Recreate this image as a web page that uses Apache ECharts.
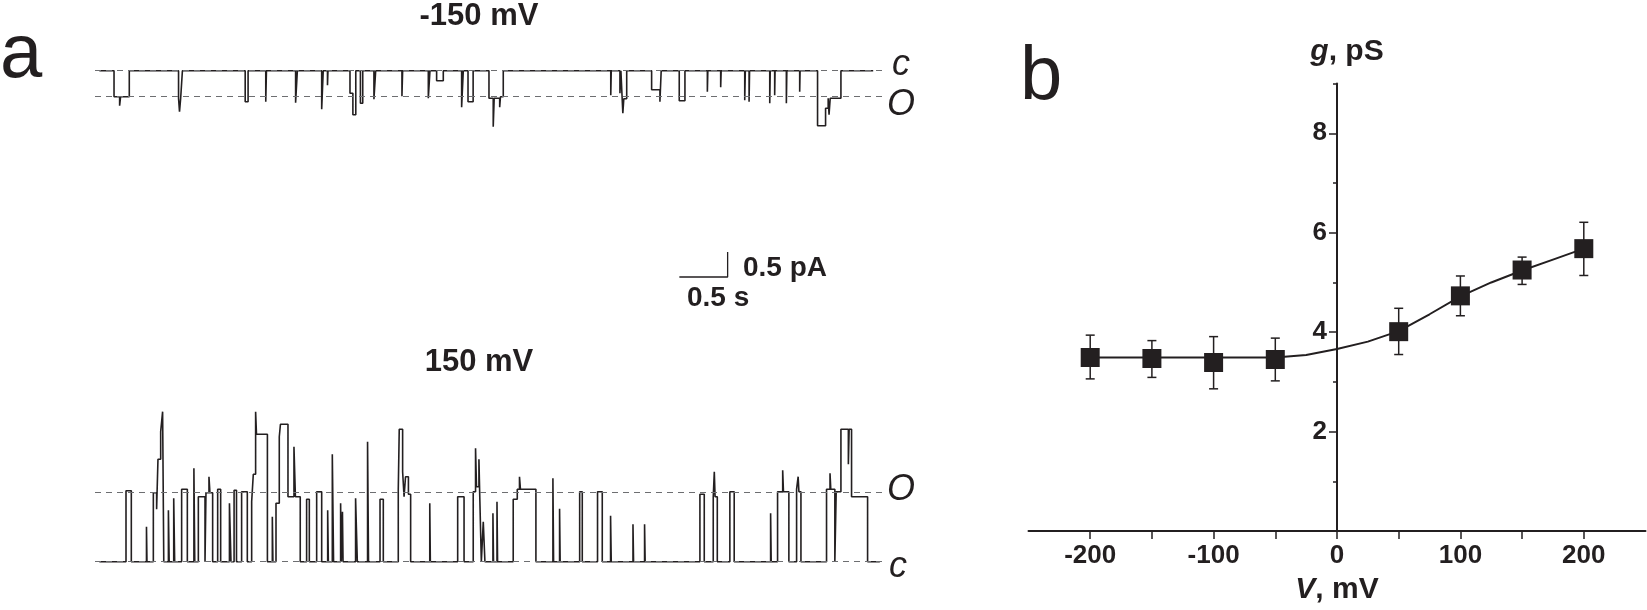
<!DOCTYPE html>
<html>
<head>
<meta charset="utf-8">
<title>Single-channel records and g-V curve</title>
<script src="https://cdn.jsdelivr.net/npm/echarts@6.0.0/dist/echarts.min.js"></script>
<style>
  html, body { margin: 0; padding: 0; background: #fff; }
  #chart { width: 1647px; height: 610px; }
</style>
</head>
<body>
<div id="chart"></div>
<script>
// ---- panel a: single-channel records, events as [start s, end s, level pA] ----
const topTraceSpan = [0.045, 8.057];
const topLevels = [0, -0.52];           // closed, open
const topLevelNames = ['c', 'O'];
const topTraceEvents = [
  [0.197, 0.255, -0.52], [0.255, 0.265, -0.70], [0.265, 0.355, -0.52],
  [0.865, 0.875, -0.55], [0.875, 0.887, -0.82], [0.887, 0.905, -0.55],
  [1.555, 1.585, -0.62],
  [1.768, 1.775, -0.62],
  [2.077, 2.095, -0.64],
  [2.347, 2.363, -0.77],
  [2.407, 2.412, -0.29],
  [2.640, 2.670, -0.45], [2.670, 2.700, -0.88],
  [2.748, 2.772, -0.65],
  [2.888, 2.906, -0.57],
  [3.178, 3.185, -0.51],
  [3.451, 3.468, -0.55],
  [3.537, 3.606, -0.20],
  [3.796, 3.813, -0.73],
  [3.862, 3.915, -0.62],
  [4.079, 4.123, -0.55], [4.123, 4.133, -1.12], [4.133, 4.190, -0.55], [4.190, 4.198, -0.73], [4.198, 4.227, -0.52],
  [5.340, 5.345, -0.49],
  [5.435, 5.445, -0.45],
  [5.465, 5.475, -0.85], [5.475, 5.505, -0.56],
  [5.763, 5.849, -0.38], [5.849, 5.862, -0.62],
  [6.049, 6.108, -0.60],
  [6.340, 6.345, -0.42],
  [6.478, 6.483, -0.33],
  [6.727, 6.733, -0.59],
  [6.772, 6.777, -0.62],
  [6.986, 6.991, -0.65],
  [7.037, 7.041, -0.49],
  [7.158, 7.163, -0.65],
  [7.296, 7.300, -0.42],
  [7.481, 7.564, -1.10], [7.564, 7.591, -0.75], [7.591, 7.600, -0.55], [7.600, 7.612, -0.88], [7.612, 7.723, -0.55]
];

const bottomTraceSpan = [0.045, 8.126];
const bottomLevels = [1.38, 0];         // open, closed
const bottomLevelNames = ['O', 'c'];
const bottomTraceEvents = [
  [0.321, 0.376, 1.42],
  [0.533, 0.538, 0.70],
  [0.604, 0.638, 1.38], [0.638, 0.652, 1.05], [0.652, 0.680, 2.05], [0.680, 0.700, 2.60], [0.700, 0.712, 3.00],
  [0.760, 0.768, 1.03],
  [0.815, 0.825, 1.27],
  [0.897, 0.956, 1.45],
  [1.024, 1.033, 1.87],
  [1.070, 1.139, 1.30],
  [1.149, 1.180, 1.38], [1.180, 1.190, 1.70], [1.190, 1.218, 1.38],
  [1.270, 1.301, 1.45],
  [1.392, 1.408, 1.17],
  [1.440, 1.465, 1.43],
  [1.518, 1.577, 1.40],
  [1.622, 1.639, 1.20], [1.639, 1.663, 1.75], [1.663, 1.672, 3.00], [1.672, 1.785, 2.55],
  [1.836, 1.842, 0.90],
  [1.874, 1.908, 1.17], [1.908, 1.920, 2.50], [1.920, 1.998, 2.75], [1.998, 2.060, 1.30], [2.060, 2.075, 2.30], [2.075, 2.125, 1.30],
  [2.191, 2.219, 1.25],
  [2.295, 2.347, 1.40],
  [2.409, 2.416, 1.03],
  [2.457, 2.470, 2.15],
  [2.543, 2.550, 1.17],
  [2.562, 2.568, 1.00],
  [2.698, 2.716, 1.27],
  [2.822, 2.832, 2.40],
  [2.951, 2.985, 1.25],
  [3.140, 3.150, 1.45], [3.150, 3.185, 2.65], [3.185, 3.200, 1.80], [3.200, 3.215, 1.30], [3.215, 3.245, 1.70], [3.245, 3.268, 1.35],
  [3.466, 3.472, 1.17],
  [3.755, 3.821, 1.30],
  [3.916, 3.940, 1.40], [3.940, 3.950, 2.27], [3.950, 3.975, 1.50], [3.975, 3.985, 2.05], [3.985, 4.000, 1.20],
  [4.020, 4.037, 0.80],
  [4.120, 4.126, 0.97],
  [4.162, 4.168, 1.20],
  [4.330, 4.372, 1.25], [4.372, 4.395, 1.45], [4.395, 4.405, 1.70], [4.405, 4.565, 1.45],
  [4.741, 4.748, 1.67],
  [4.810, 4.816, 1.06],
  [5.018, 5.045, 1.40],
  [5.203, 5.252, 1.40],
  [5.338, 5.345, 0.92],
  [5.570, 5.576, 0.75],
  [5.690, 5.696, 0.75],
  [6.263, 6.308, 1.35],
  [6.401, 6.412, 1.30], [6.412, 6.420, 1.80], [6.420, 6.443, 1.30],
  [6.573, 6.618, 1.40],
  [6.995, 7.001, 0.97],
  [7.067, 7.120, 1.40], [7.120, 7.128, 1.83], [7.128, 7.184, 1.40],
  [7.264, 7.280, 1.45], [7.280, 7.288, 1.70], [7.288, 7.309, 1.40],
  [7.574, 7.610, 1.45], [7.610, 7.618, 1.77], [7.618, 7.660, 1.45],
  [7.674, 7.723, 1.40], [7.723, 7.800, 2.65], [7.800, 7.808, 1.95], [7.808, 7.833, 2.65], [7.833, 7.999, 1.30]
];

// scale bar: 0.5 s, 0.5 pA
const scaleBarTime = 0.5;
const scaleBarCurrent = 0.5;
const scaleBarStart = 6.05;

// ---- panel b: conductance vs voltage ----
const voltages = [-200, -150, -100, -50, 50, 100, 150, 200];
const conductance = [3.49, 3.47, 3.39, 3.45, 4.01, 4.73, 5.25, 5.68];
const errLow = [3.06, 3.09, 2.86, 3.02, 3.55, 4.33, 4.96, 5.14];
const errHigh = [3.94, 3.83, 3.91, 3.88, 4.48, 5.13, 5.51, 6.21];
const fitV = [-200, -150, -100, -50, -25, 0, 25, 50, 75, 100, 125, 150, 175, 200];
const fitG = [3.49, 3.49, 3.49, 3.49, 3.54, 3.66, 3.81, 4.02, 4.36, 4.72, 5.00, 5.24, 5.46, 5.68];
const vTickValues = [-200, -150, -100, -50, 0, 50, 100, 150, 200];
const vLabelValues = [-200, -100, 0, 100, 200];
const gTickValues = [2, 4, 6, 8];
const gMinorTickValues = [1, 3, 5, 7, 9];

const INK = '#231f20';
const FONT = 'Liberation Sans';

// layout
const traceLeft = 95, traceWidth = 792, traceTimeMax = 8.2;
const gB = { left: 1028.5, top: 83.6, width: 617, height: 449 };
const vRange = [-250, 250], gRange = [0, 9];
const yAxisShift = -(0 - vRange[0]) / (vRange[1] - vRange[0]) * gB.width;

function buildTrace(span, events) {
  const pts = [[span[0], 0]];
  events.forEach((e, i) => {
    const prev = events[i - 1], next = events[i + 1];
    if (!prev || prev[1] < e[0]) pts.push([e[0], 0]);
    pts.push([e[0], e[2]], [e[1], e[2]]);
    if (!next || next[0] > e[1]) pts.push([e[1], 0]);
  });
  pts.push([span[1], 0]);
  return pts;
}

function levelLines(levels) {
  return {
    silent: true,
    symbol: ['none', 'none'],
    label: { show: false },
    lineStyle: { color: '#6d6e71', type: [6, 5], width: 1.2 },
    data: levels.map((v) => ({ yAxis: v }))
  };
}

function hiddenAxis(gridIndex, min, max) {
  return { type: 'value', gridIndex, min, max, show: false };
}

function text(str, x, y, size, opts) {
  return {
    type: 'text', x, y, silent: true,
    style: Object.assign({
      text: str, fill: INK, fontFamily: FONT, fontSize: size,
      align: 'center', verticalAlign: 'middle',
      textAlign: 'center', textVerticalAlign: 'middle'
    }, opts || {})
  };
}

const nameRich = {
  i: { fontFamily: FONT, fontSize: 30, fontWeight: 'bold', fontStyle: 'italic', color: INK },
  n: { fontFamily: FONT, fontSize: 30, fontWeight: 'bold', color: INK }
};

const chart = echarts.init(document.getElementById('chart'));

const option = {
  animation: false,
  backgroundColor: '#fff',
  grid: [
    { left: traceLeft, top: 50.7, width: traceWidth, height: 85 },
    { left: traceLeft, top: 401.7, width: traceWidth, height: 180 },
    { left: traceLeft, top: 227, width: traceWidth, height: 50 },
    { left: gB.left, top: gB.top, width: gB.width, height: gB.height }
  ],
  xAxis: [
    hiddenAxis(0, 0, traceTimeMax),
    hiddenAxis(1, 0, traceTimeMax),
    hiddenAxis(2, 0, traceTimeMax),
    {
      type: 'value', gridIndex: 3, min: vRange[0], max: vRange[1], interval: 50,
      name: '{i|V}{n|, mV}', nameLocation: 'middle', nameGap: 44,
      nameTextStyle: { rich: nameRich },
      axisLine: { lineStyle: { color: INK, width: 2 } },
      axisTick: { customValues: vTickValues, length: 8, lineStyle: { color: INK, width: 1.5 } },
      axisLabel: {
        customValues: vLabelValues, margin: 12,
        fontFamily: FONT, fontSize: 26, fontWeight: 'bold', color: INK
      },
      splitLine: { show: false }
    }
  ],
  yAxis: [
    hiddenAxis(0, -1.3, 0.4),
    hiddenAxis(1, -0.4, 3.2),
    hiddenAxis(2, 0, 1),
    {
      type: 'value', gridIndex: 3, min: gRange[0], max: gRange[1], interval: 1,
      position: 'left', offset: yAxisShift,
      name: '{i|g}{n|, pS}', nameLocation: 'end', nameGap: 17,
      nameTextStyle: { padding: [0, 0, 0, 20], rich: nameRich },
      axisLine: { show: true, onZero: false, lineStyle: { color: INK, width: 2 } },
      axisTick: { customValues: gTickValues, length: 8, lineStyle: { color: INK, width: 1.5 } },
      axisLabel: {
        customValues: gTickValues, margin: 10,
        fontFamily: FONT, fontSize: 26, fontWeight: 'bold', color: INK
      },
      splitLine: { show: false }
    },
    {
      type: 'value', gridIndex: 3, min: gRange[0], max: gRange[1], interval: 1,
      position: 'left', offset: yAxisShift,
      axisLine: { show: false, onZero: false },
      axisTick: { customValues: gMinorTickValues, length: 4, lineStyle: { color: INK, width: 1.5 } },
      axisLabel: { show: false },
      splitLine: { show: false }
    }
  ],
  series: [
    {
      type: 'line', xAxisIndex: 0, yAxisIndex: 0,
      data: buildTrace(topTraceSpan, topTraceEvents),
      showSymbol: false, clip: false,
      lineStyle: { color: INK, width: 1.6 },
      markLine: levelLines(topLevels)
    },
    {
      type: 'line', xAxisIndex: 1, yAxisIndex: 1,
      data: buildTrace(bottomTraceSpan, bottomTraceEvents),
      showSymbol: false, clip: false,
      lineStyle: { color: INK, width: 1.6 },
      markLine: levelLines(bottomLevels)
    },
    {
      // scale bar
      type: 'line', xAxisIndex: 2, yAxisIndex: 2,
      data: [
        [scaleBarStart, 0],
        [scaleBarStart + scaleBarTime, 0],
        [scaleBarStart + scaleBarTime, scaleBarCurrent]
      ],
      showSymbol: false, clip: false,
      lineStyle: { color: INK, width: 1.3 }
    },
    {
      // error bars
      type: 'custom', xAxisIndex: 3, yAxisIndex: 3,
      data: voltages.map((v, i) => [v, errLow[i], errHigh[i]]),
      renderItem(params, api) {
        const lo = api.coord([api.value(0), api.value(1)]);
        const hi = api.coord([api.value(0), api.value(2)]);
        const w = 4.5;
        const style = { stroke: INK, lineWidth: 1.5 };
        return {
          type: 'group',
          children: [
            { type: 'line', shape: { x1: lo[0], y1: lo[1], x2: hi[0], y2: hi[1] }, style },
            { type: 'line', shape: { x1: lo[0] - w, y1: lo[1], x2: lo[0] + w, y2: lo[1] }, style },
            { type: 'line', shape: { x1: hi[0] - w, y1: hi[1], x2: hi[0] + w, y2: hi[1] }, style }
          ]
        };
      },
      z: 2
    },
    {
      // fitted curve
      type: 'line', xAxisIndex: 3, yAxisIndex: 3,
      data: fitV.map((v, i) => [v, fitG[i]]),
      smooth: false, showSymbol: false,
      lineStyle: { color: INK, width: 2 },
      z: 3
    },
    {
      type: 'scatter', xAxisIndex: 3, yAxisIndex: 3,
      data: voltages.map((v, i) => [v, conductance[i]]),
      symbol: 'rect', symbolSize: 19,
      itemStyle: { color: INK, opacity: 1 },
      z: 4
    }
  ],
  graphic: [
    text('a', 0, 94, 76, { align: 'left', textAlign: 'left', verticalAlign: 'bottom', textVerticalAlign: 'bottom' }),
    text('b', 1020, 116, 76, { align: 'left', textAlign: 'left', verticalAlign: 'bottom', textVerticalAlign: 'bottom' }),
    text('-150 mV', 479, 16, 31, { fontWeight: 'bold' }),
    text('150 mV', 479, 362, 31, { fontWeight: 'bold' }),
    text(topLevelNames[0], 901, 65, 36, { fontStyle: 'italic' }),
    text(topLevelNames[1], 901, 105, 36, { fontStyle: 'italic' }),
    text(bottomLevelNames[0], 901, 490, 36, { fontStyle: 'italic' }),
    text(bottomLevelNames[1], 898, 567, 36, { fontStyle: 'italic' }),
    text('0.5 pA', 743, 268, 28, { fontWeight: 'bold', align: 'left', textAlign: 'left' }),
    text('0.5 s', 687, 298, 28, { fontWeight: 'bold', align: 'left', textAlign: 'left' })
  ]
};

chart.setOption(option);
window.addEventListener('resize', () => chart.resize());
</script>
</body>
</html>
